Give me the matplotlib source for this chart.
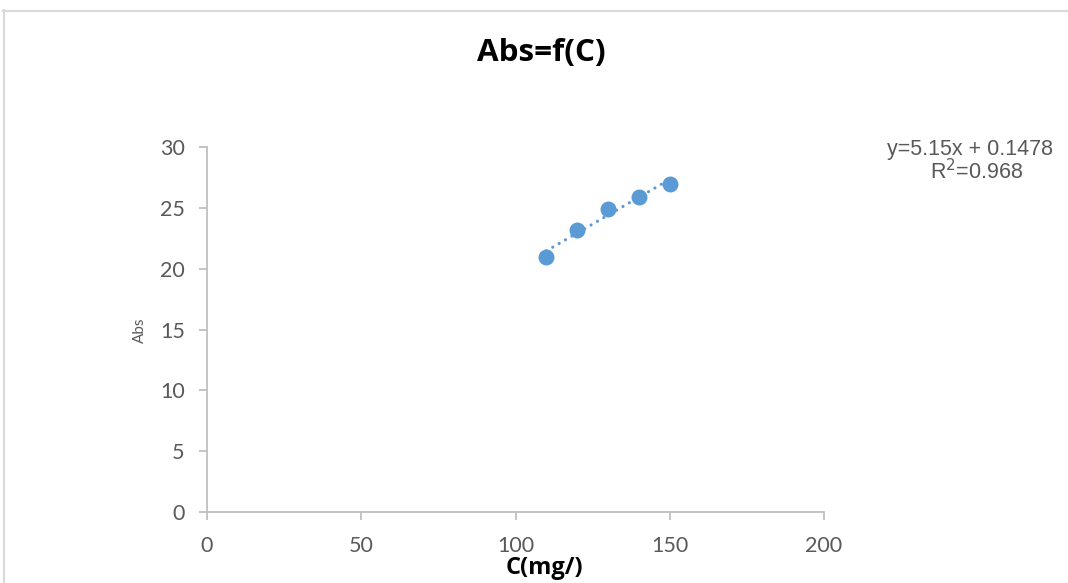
import matplotlib
matplotlib.use("Agg")
import matplotlib.pyplot as plt
from matplotlib.lines import Line2D
import numpy as np

# Data
conc = [110, 120, 130, 140, 150]
absorb = [21.0, 23.2, 24.9, 25.9, 27.0]
x_ticks = [0, 50, 100, 150, 200]
y_ticks = [0, 5, 10, 15, 20, 25, 30]
title = "Abs=f(C)"
xlabel = "C(mg/)"
ylabel = "Abs"
eq_text = "y=5.15x + 0.1478"
r2_text = "R$^2$=0.968"

blue = "#5b9bd5"
gray_txt = "#595959"
axis_col = "#bfbfbf"

W, H = 1068, 583
fig = plt.figure(figsize=(W / 100, H / 100), dpi=100)
ax = fig.add_axes([207 / W, 1 - 512 / H, (824 - 207) / W, (512 - 147) / H])

# Trendline (linear fit)
coef = np.polyfit(conc, absorb, 1)
xs = np.array([min(conc), max(conc)])
ax.plot(xs, np.polyval(coef, xs), color=blue, lw=2.3,
        linestyle=(0, (0.01, 2.3)), dash_capstyle="round", zorder=2)
ax.plot(conc, absorb, "o", color=blue, markersize=11.5, markeredgewidth=0, zorder=3)

ax.set_xlim(0, 200)
ax.set_ylim(0, 30)
ax.set_xticks(x_ticks)
ax.set_yticks(y_ticks)
for s in ["top", "right"]:
    ax.spines[s].set_visible(False)
for s in ["left", "bottom"]:
    ax.spines[s].set_color(axis_col)
    ax.spines[s].set_linewidth(1.3)
ax.tick_params(axis="both", colors=axis_col, width=1.3, length=6,
               labelcolor=gray_txt, labelsize=15.5)
ax.tick_params(axis="x", pad=11)
ax.tick_params(axis="y", pad=10)
for lab in ax.get_xticklabels() + ax.get_yticklabels():
    lab.set_fontfamily("Lato")

fig.text(541 / W, 1 - 53 / H, title, ha="center", va="center",
         fontsize=22.6, fontweight="bold", family="Open Sans", color="black")
fig.text(544 / W, 1 - 568 / H, xlabel, ha="center", va="center",
         fontsize=17, fontweight="bold", family="Open Sans", color="black")
fig.text(140 / W, 1 - 330 / H, ylabel, ha="center", va="center", rotation=90,
         fontsize=11, family="Lato", color=gray_txt)

fig.text(970 / W, 1 - 150 / H, eq_text, ha="center", va="center",
         fontsize=15.5, family="Liberation Sans", color=gray_txt)
fig.text(977 / W, 1 - 172 / H, r2_text, ha="center", va="center",
         fontsize=15.5, family="Liberation Sans", color=gray_txt)

# Chart area border (partially visible)
border = "#d9d9d9"
fig.add_artist(Line2D([3.5 / W, 3.5 / W], [0, 1 - 10 / H], color=border, lw=1.5,
                      transform=fig.transFigure))
fig.add_artist(Line2D([3 / W, 1], [1 - 10.5 / H, 1 - 10.5 / H], color=border, lw=1.5,
                      transform=fig.transFigure))

fig.savefig("out.png", dpi=100)
